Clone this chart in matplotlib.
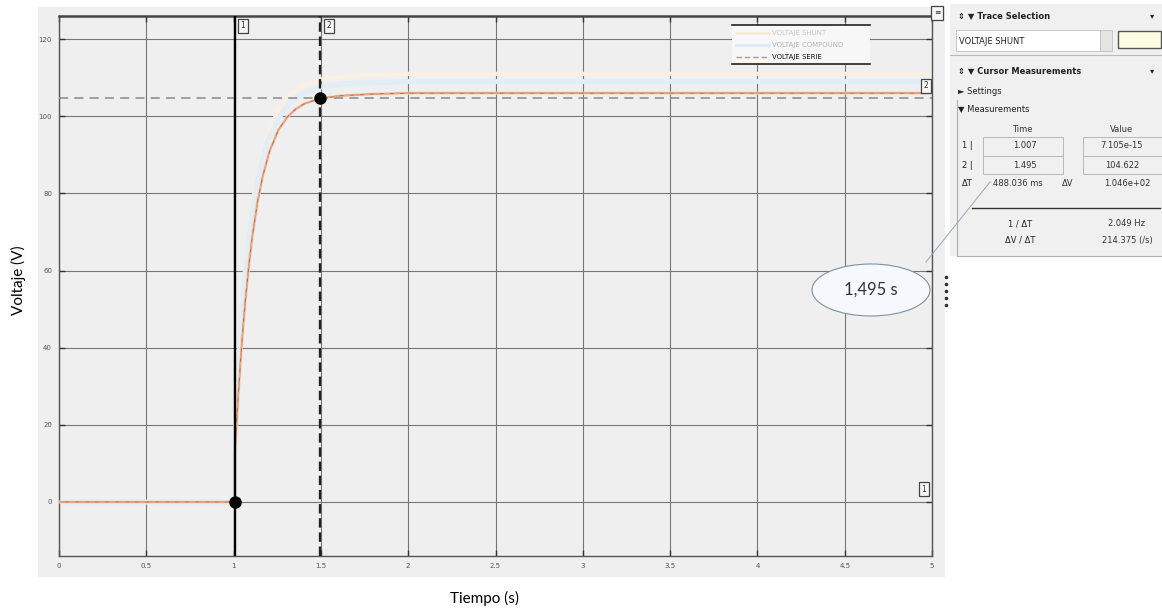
import numpy as np
import matplotlib.pyplot as plt
from matplotlib.patches import Rectangle, Ellipse
from matplotlib.lines import Line2D

# series
t_serie = [0, 1.007, 1.007, 1.017, 1.027, 1.047, 1.067, 1.087, 1.107, 1.137, 1.167,
           1.207, 1.257, 1.307, 1.357, 1.407, 1.495, 1.607, 1.807, 2.007, 5.0]
v_serie = [0, 0, 12, 20.3, 27.9, 41.2, 52.1, 61.2, 68.8, 77.8, 84.5,
           91.1, 96.5, 99.8, 101.9, 103.3, 104.6, 105.3, 105.8, 106.0, 106.0]

t_shunt = [0, 1.007, 1.007, 1.02, 1.04, 1.07, 1.10, 1.14, 1.19, 1.25, 1.32, 1.40, 1.50, 1.65, 2.0, 5.0]
v_shunt = [0, 0, 14, 30, 46, 63, 75, 86, 95, 101, 105.5, 108, 109.6, 110.5, 111, 111]
v_comp = [0, 0, 13, 29, 45, 61, 73, 84, 93, 99, 103.5, 106, 107.6, 108.5, 109, 109]

cursor_t = [1.007, 1.495]
cursor_v = [0.0, 104.622]

xticks = [0, 0.5, 1, 1.5, 2, 2.5, 3, 3.5, 4, 4.5, 5]
xticklabels = ['0', '0.5', '1', '1.5', '2', '2.5', '3', '3.5', '4', '4.5', '5']
yticks = [0, 20, 40, 60, 80, 100, 120]

legend_names = ['VOLTAJE SHUNT', 'VOLTAJE COMPOUND', 'VOLTAJE SERIE']

W, H = 1162, 610
def fx(px):
    return px / W
def fy(py):
    return 1 - py / H

fig = plt.figure(figsize=(11.62, 6.10), dpi=100)
fig.patch.set_facecolor('white')

# gray scope panel
fig.patches.append(Rectangle((fx(38), fy(577)), fx(945) - fx(38), fy(7) - fy(577),
                             transform=fig.transFigure, facecolor='#efefef', edgecolor='none', zorder=0))
fig.patches.append(Rectangle((fx(950), fy(256)), fx(1162) - fx(950), fy(4) - fy(256),
                             transform=fig.transFigure, facecolor='#f0f0f0', edgecolor='none', zorder=0))

ax = fig.add_axes([fx(59), fy(556), fx(932) - fx(59), fy(16) - fy(556)])
ax.set_zorder(1)
ax.set_facecolor('#efefef')
ax.set_xlim(0, 5)
ax.set_ylim(-14, 126)
ax.set_xticks(xticks)
ax.set_xticklabels(xticklabels)
ax.set_yticks(yticks)
ax.set_axisbelow(True)
ax.grid(True, color='#767676', lw=0.8)
ax.tick_params(direction='in', length=4, width=1, colors='#333333', labelsize=5,
               labelcolor='#555555', top=True, right=True, pad=5)
for s in ax.spines.values():
    s.set_color('#555555')
    s.set_linewidth(1)
ax.spines['top'].set_linewidth(1.8)
ax.spines['top'].set_color('#444444')

# faint traces
ax.plot(t_shunt, v_shunt, color='#f9efe2', lw=3, zorder=2)
ax.plot(t_shunt, v_comp, color='#e1edf7', lw=3.5, zorder=2)
# serie trace
ax.plot(t_serie, v_serie, color='#f5d6c2', lw=2.2, zorder=3)
ax.plot(t_serie, v_serie, color='#c27650', lw=1, zorder=4)
ax.plot(t_serie, v_serie, color='#eaa98c', lw=0.9, ls=(0, (5, 3)), zorder=4)

# cursors
ax.axhline(cursor_v[1], color='#8a8a8a', lw=1.1, ls=(0, (6, 4)), zorder=5)
ax.axvline(cursor_t[0], color='black', lw=1.7, zorder=6)
ax.axvline(cursor_t[1], color='#222222', lw=1.7, ls=(0, (4, 2)), zorder=6)
ax.plot(cursor_t, cursor_v, 'o', color='black', ms=8, zorder=7)

fig.text(fx(485), fy(598), 'Tiempo (s)', family='Lato', fontsize=11, ha='center', va='center')
fig.text(fx(18), fy(280), 'Voltaje (V)', family='Lato', fontsize=11, ha='center', va='center',
         rotation=90)

# cursor tag boxes
def tag(px, py, s):
    fig.text(fx(px), fy(py), s, fontsize=5.5, ha='center', va='center', color='#333333', zorder=4,
             bbox=dict(boxstyle='square,pad=0.35', fc='#f6f6f6', ec='#444444', lw=0.9))
tag(243, 26, '1')
tag(329, 26, '2')
tag(926, 86, '2')
tag(924, 489, '1')
tag(937, 13, '≡')

# legend box
fig.patches.append(Rectangle((fx(732), fy(64)), fx(870) - fx(732), fy(25) - fy(64),
                             transform=fig.transFigure, facecolor='#f7f7f7', edgecolor='none', zorder=2))
for y0 in [25, 64]:
    fig.add_artist(Line2D([fx(732), fx(870)], [fy(y0), fy(y0)], color='#222222', lw=1.2, zorder=3))
leg_colors = ['#f7ead8', '#dcebf7', '#e08a6a']
leg_styles = ['-', '-', (0, (4, 2))]
leg_text = ['#c8c8c8', '#b4b4b4', '#111111']
for i, name in enumerate(legend_names):
    y0 = 33 + i * 12
    fig.add_artist(Line2D([fx(736), fx(769)], [fy(y0), fy(y0)], color=leg_colors[i],
                          lw=2 if i < 2 else 1, ls=leg_styles[i], zorder=3))
    fig.text(fx(772), fy(y0), name, fontsize=5, va='center', color=leg_text[i], zorder=3)

# callout
fig.patches.append(Ellipse((fx(871), fy(290)), fx(118), 52 / H, transform=fig.transFigure,
                           facecolor='#f5f8fc', edgecolor='#8090a0', lw=0.8, zorder=6))
fig.text(fx(871), fy(290), '1,495 s', family='Lato', fontsize=12, ha='center', va='center',
         color='#333333', zorder=7)
fig.add_artist(Line2D([fx(926), fx(990)], [fy(262), fy(182)], color='#9aa6b4', lw=0.7, zorder=3))
fig.add_artist(Line2D([fx(946)] * 5, [fy(277), fy(284), fy(291), fy(298), fy(305)],
                      ls='none', marker='o', ms=1.6, color='#333333', zorder=3))

# side panel: trace selection
fs = 6
fig.text(fx(958), fy(16), '⇕ ▼ Trace Selection', fontsize=fs, weight='bold', va='center', color='#222222')
fig.text(fx(1150), fy(16), '▾', fontsize=fs, va='center', color='#222222')
fig.patches.append(Rectangle((fx(956), fy(51)), fx(1100) - fx(956), fy(30) - fy(51),
                             transform=fig.transFigure, facecolor='white', edgecolor='#c0c0c0', lw=0.6))
fig.text(fx(959), fy(41), 'VOLTAJE SHUNT', fontsize=fs, va='center', color='#222222')
fig.patches.append(Rectangle((fx(1100), fy(51)), fx(1112) - fx(1100), fy(30) - fy(51),
                             transform=fig.transFigure, facecolor='#e4e4e4', edgecolor='#c0c0c0', lw=0.6))
fig.patches.append(Rectangle((fx(1118), fy(48)), fx(1161) - fx(1118), fy(31) - fy(48),
                             transform=fig.transFigure, facecolor='#fbfbe2', edgecolor='#555555', lw=1))
fig.add_artist(Line2D([fx(950), fx(1162)], [fy(55), fy(55)], color='#bbbbbb', lw=0.8))

# side panel: cursor measurements
fig.text(fx(958), fy(71), '⇕ ▼ Cursor Measurements', fontsize=fs, weight='bold', va='center', color='#222222')
fig.text(fx(1150), fy(71), '▾', fontsize=fs, va='center', color='#222222')
fig.text(fx(958), fy(91), '► Settings', fontsize=fs, va='center', color='#222222')
fig.text(fx(958), fy(109), '▼ Measurements', fontsize=fs, va='center', color='#222222')
fig.add_artist(Line2D([fx(957), fx(957), fx(1162)], [fy(100), fy(256), fy(256)], color='#b0b0b0', lw=0.8))
fig.text(fx(1022), fy(130), 'Time', fontsize=fs, ha='center', va='center', color='#333333')
fig.text(fx(1122), fy(130), 'Value', fontsize=fs, ha='center', va='center', color='#333333')
rows = [('1', '1.007', '7.105e-15', 146), ('2', '1.495', '104.622', 165)]
for lab, tv, vv, y0 in rows:
    fig.text(fx(962), fy(y0), lab + ' |', fontsize=fs, va='center', color='#222222')
    fig.text(fx(1025), fy(y0), tv, fontsize=fs, ha='center', va='center', color='#333333')
    fig.text(fx(1122), fy(y0), vv, fontsize=fs, ha='center', va='center', color='#333333')
for x0, x1 in [(983, 1063), (1083, 1162)]:
    fig.patches.append(Rectangle((fx(x0), fy(174)), fx(x1) - fx(x0), fy(137) - fy(174),
                                 transform=fig.transFigure, facecolor='none', edgecolor='#b8b8b8', lw=0.7))
    fig.add_artist(Line2D([fx(x0), fx(x1)], [fy(156), fy(156)], color='#b8b8b8', lw=0.7))
fig.text(fx(962), fy(184), 'ΔT', fontsize=fs, va='center', color='#222222')
fig.text(fx(993), fy(184), '488.036 ms', fontsize=fs, va='center', color='#333333')
fig.text(fx(1062), fy(184), 'ΔV', fontsize=fs, va='center', color='#333333')
fig.text(fx(1127), fy(184), '1.046e+02', fontsize=fs, ha='center', va='center', color='#333333')
fig.add_artist(Line2D([fx(972), fx(1160)], [fy(208), fy(208)], color='#333333', lw=1))
fig.text(fx(1020), fy(224), '1 / ΔT', fontsize=fs, ha='center', va='center', color='#222222')
fig.text(fx(1127), fy(224), '2.049 Hz', fontsize=fs, ha='center', va='center', color='#333333')
fig.text(fx(1020), fy(240), 'ΔV / ΔT', fontsize=fs, ha='center', va='center', color='#222222')
fig.text(fx(1127), fy(240), '214.375 (/s)', fontsize=fs, ha='center', va='center', color='#333333')

fig.savefig('out.png', dpi=100)
